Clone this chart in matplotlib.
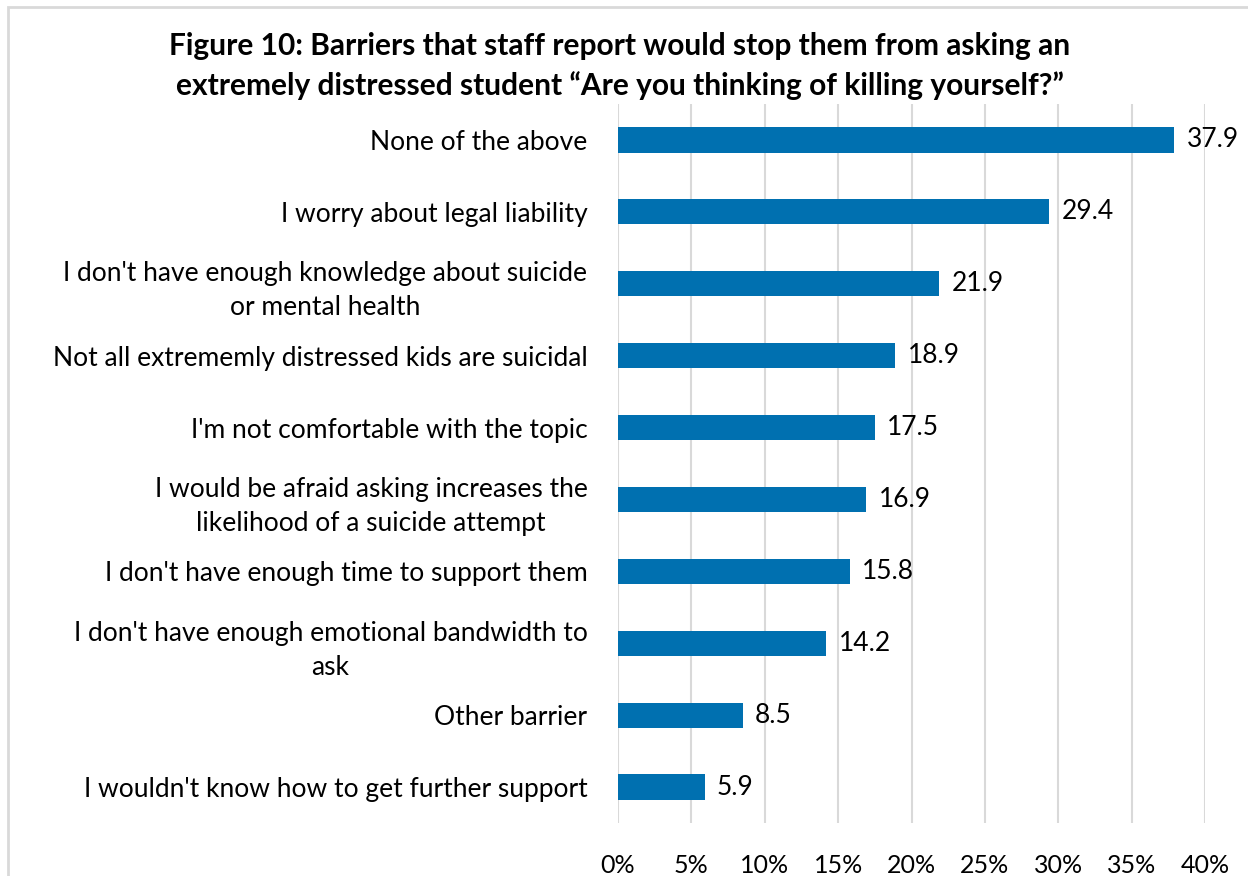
import matplotlib.pyplot as plt
from matplotlib.patches import Rectangle

# Data (top to bottom as shown)
barriers = [
    "None of the above",
    "I worry about legal liability",
    "I don't have enough knowledge about suicide\nor mental health",
    "Not all extrememly distressed kids are suicidal",
    "I'm not comfortable with the topic",
    "I would be afraid asking increases the\nlikelihood of a suicide attempt",
    "I don't have enough time to support them",
    "I don't have enough emotional bandwidth to\nask",
    "Other barrier",
    "I wouldn't know how to get further support",
]
percent = [37.9, 29.4, 21.9, 18.9, 17.5, 16.9, 15.8, 14.2, 8.5, 5.9]
xticks = [0, 5, 10, 15, 20, 25, 30, 35, 40]

bar_blue = "#0070B0"
grid_gray = "#D9D9D9"

plt.rcParams["font.family"] = ["Lato", "DejaVu Sans"]

fig = plt.figure(figsize=(12.48, 8.76), dpi=100)
ax = fig.add_axes([618 / 1248, 1 - 823 / 876, (1205 - 618) / 1248, (823 - 104) / 876])

y = list(range(len(barriers)))
ax.barh(y, percent, height=0.35, color=bar_blue)
for yi, v in zip(y, percent):
    ax.text(v + 0.85, yi, f"{v:.1f}", va="center", ha="left", fontsize=19, color="black")

ax.set_yticks(y, barriers, fontsize=19, multialignment="center", linespacing=1.45)
ax.set_ylim(len(barriers) - 0.5, -0.5)
ax.set_xlim(0, 40)
ax.set_xticks(xticks, [f"{t}%" for t in xticks], fontsize=18)
ax.tick_params(axis="y", length=0, pad=22)
ax.tick_params(axis="x", length=0, pad=22)
ax.grid(axis="x", color=grid_gray, linewidth=1.5)
ax.set_axisbelow(True)
for s in ax.spines.values():
    s.set_visible(False)

fig.text(620 / 1248, 1 - 66 / 876,
         "Figure 10: Barriers that staff report would stop them from asking an\n"
         "extremely distressed student \u201cAre you thinking of killing yourself?\u201d",
         ha="center", va="center", fontsize=21.5, fontweight="bold", linespacing=1.42)

# chart border
fig.patches.append(Rectangle((8 / 1248, -0.1), 1.2, 1 - 7 / 876 + 0.1, transform=fig.transFigure,
                             fill=False, edgecolor="#D9D9D9", linewidth=2))

fig.savefig("out.png", dpi=100)
